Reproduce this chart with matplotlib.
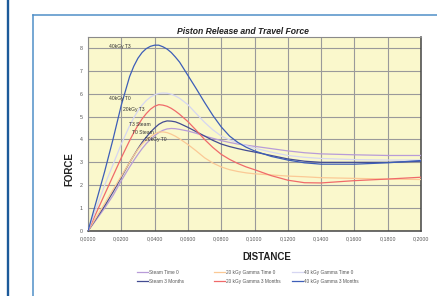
import matplotlib.pyplot as plt
from matplotlib.lines import Line2D

# distance (x) shared by all series
distance = [0, 0.005, 0.01, 0.015, 0.02, 0.025, 0.0275, 0.03, 0.0325, 0.035, 0.0375,
            0.04, 0.0425, 0.045, 0.0475, 0.05, 0.0525, 0.055, 0.06, 0.065, 0.07,
            0.075, 0.08, 0.085, 0.09, 0.095, 0.10, 0.11, 0.12, 0.13, 0.14, 0.16,
            0.18, 0.20]

steam_t0 = [0, 0.5, 1.0, 1.55, 2.2, 2.8, 3.08, 3.35, 3.6, 3.82, 4.0,
            4.17, 4.3, 4.4, 4.46, 4.48, 4.47, 4.44, 4.37, 4.27, 4.15,
            4.05, 3.95, 3.87, 3.8, 3.75, 3.7, 3.6, 3.5, 3.42, 3.37, 3.33,
            3.3, 3.3]
steam_3m = [0, 0.55, 1.1, 1.7, 2.35, 3.0, 3.3, 3.6, 3.87, 4.1, 4.32,
            4.5, 4.66, 4.76, 4.81, 4.8, 4.77, 4.7, 4.53, 4.34, 4.15,
            3.96, 3.8, 3.69, 3.6, 3.52, 3.45, 3.3, 3.15, 3.05, 3.0, 3.0,
            3.0, 3.05]
g20_t0 = [0, 0.6, 1.2, 1.8, 2.4, 3.0, 3.3, 3.57, 3.8, 3.98, 4.13,
          4.25, 4.32, 4.33, 4.3, 4.23, 4.14, 4.03, 3.78, 3.5, 3.2,
          2.97, 2.8, 2.68, 2.6, 2.54, 2.5, 2.45, 2.4, 2.37, 2.33, 2.3,
          2.27, 2.25]
g20_3m = [0, 0.8, 1.6, 2.4, 3.2, 3.95, 4.3, 4.62, 4.9, 5.13, 5.32,
          5.45, 5.52, 5.5, 5.45, 5.36, 5.24, 5.1, 4.78, 4.4, 4.0,
          3.65, 3.35, 3.13, 2.95, 2.8, 2.68, 2.42, 2.22, 2.11, 2.1, 2.2,
          2.27, 2.35]
g40_t0 = [0, 1.0, 2.0, 2.9, 3.8, 4.6, 4.95, 5.25, 5.5, 5.7, 5.85,
          5.95, 6.01, 6.03, 6.02, 5.98, 5.9, 5.8, 5.52, 5.13, 4.75,
          4.42, 4.15, 3.98, 3.85, 3.73, 3.62, 3.45, 3.3, 3.22, 3.17, 3.12,
          3.1, 3.1]
g40_3m = [0, 1.3, 2.6, 4.0, 5.5, 6.75, 7.2, 7.55, 7.8, 7.97, 8.07,
          8.12, 8.12, 8.05, 7.95, 7.8, 7.6, 7.38, 6.8, 6.22, 5.62,
          5.05, 4.55, 4.15, 3.87, 3.66, 3.5, 3.26, 3.1, 2.98, 2.92, 2.92,
          2.98, 3.08]

series = [
    ("Steam Time 0", steam_t0, "#b89cd8"),
    ("Steam 3 Months", steam_3m, "#434c92"),
    ("20 kGy Gamma Time 0", g20_t0, "#fbc995"),
    ("20 kGy Gamma 3 Months", g20_3m, "#f06a6a"),
    ("40 kGy Gamma Time 0", g40_t0, "#d6d6f2"),
    ("40 kGy Gamma 3 Months", g40_3m, "#3d5eb8"),
]

labels = ["40kGy T3", "40kGy T0", "20kGy T3", "T3 Steam", "T0 Steam", "20kGy T0"]
label_x = [0.0127, 0.0127, 0.0209, 0.0245, 0.0265, 0.0343]
label_y = [8.07, 5.8, 5.3, 4.64, 4.32, 4.0]

xticks = [0, 0.02, 0.04, 0.06, 0.08, 0.10, 0.12, 0.14, 0.16, 0.18, 0.20]
yticks = [0, 1, 2, 3, 4, 5, 6, 7, 8]

plt.rcParams['font.family'] = ['Liberation Sans', 'DejaVu Sans']

fig = plt.figure(figsize=(4.37, 2.96), dpi=100)
ax = fig.add_axes([88 / 437, 1 - 231 / 296, 333 / 437, (231 - 36.7) / 296])
ax.set_facecolor("#faf8cc")

lines = []
for name, vals, col in series:
    ln, = ax.plot(distance, vals, color=col, lw=0.9, label=name, zorder=3)
    lines.append(ln)

for t, x, y in zip(labels, label_x, label_y):
    ax.text(x, y, t, fontsize=3.6, color="#333333", va="center", ha="left", zorder=4)

ax.set_xlim(0, 0.2)
ax.set_ylim(0, 8.49)
ax.set_xticks(xticks)
ax.set_xticklabels([("%.4f" % v).replace(".", ",") for v in xticks])
ax.set_yticks(yticks)
ax.tick_params(length=0, labelsize=3.8, labelcolor="#555555", pad=4)
ax.grid(True, color="#9a9a9a", lw=0.8, zorder=1)
ax.set_axisbelow(True)
for s in ["left", "top"]:
    ax.spines[s].set_color("#8a8a8a")
    ax.spines[s].set_linewidth(0.8)
for s in ["right", "bottom"]:
    ax.spines[s].set_color("#444444")
    ax.spines[s].set_linewidth(1.1)

fig.text(243 / 437, 1 - 31 / 296, "Piston Release and Travel Force", ha="center", va="center",
         fontsize=6.2, fontweight="bold", fontstyle="italic", color="#222222")
fig.text(69 / 437, 1 - 169 / 296, "FORCE", rotation=90, ha="center", va="center",
         fontsize=7, fontweight="bold", color="#222222")
fig.text(267 / 437, 1 - 257 / 296, "DISTANCE", ha="center", va="center",
         fontsize=7, fontweight="bold", color="#222222")

# legend: three columns placed by hand
for i, xpos in enumerate([133, 210, 288]):
    pair = lines[2 * i:2 * i + 2]
    fig.legend(pair, [l.get_label() for l in pair], loc="center left",
               bbox_to_anchor=(xpos / 437, 1 - 277 / 296), frameon=False,
               fontsize=3.4, handlelength=2.2, handletextpad=0.3,
               labelspacing=0.8, labelcolor="#555555")

# page frame lines
fig.add_artist(Line2D([8 / 437, 8 / 437], [0, 1], color="#1c5a9a", lw=1.7))
fig.add_artist(Line2D([33 / 437, 33 / 437], [0, 1 - 15 / 296], color="#4f8fc7", lw=1.1))
fig.add_artist(Line2D([32.5 / 437, 1], [1 - 15 / 296, 1 - 15 / 296], color="#4f8fc7", lw=1.1))

fig.savefig("out.png", dpi=100)
